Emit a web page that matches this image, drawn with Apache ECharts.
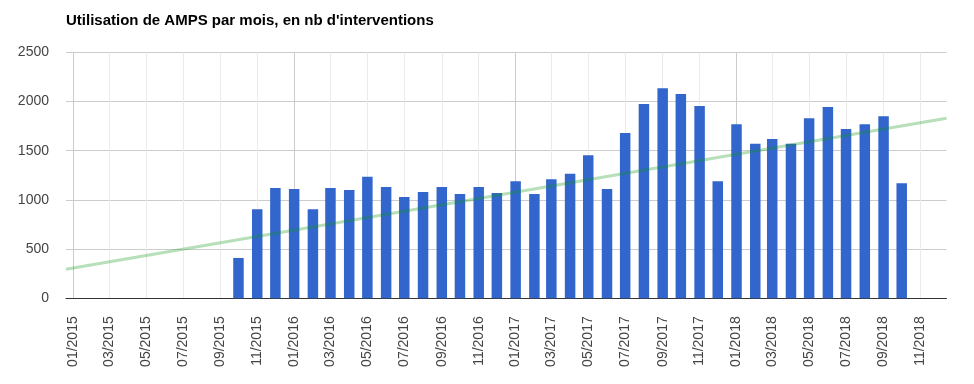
<!DOCTYPE html>
<html>
<head>
<meta charset="utf-8">
<script src="https://cdn.jsdelivr.net/npm/echarts@6/dist/echarts.min.js"></script>
<style>html,body{margin:0;padding:0;background:#fff}#c{width:974px;height:384px}</style>
</head>
<body>
<div id="c"></div>
<script>
const titleText = "Utilisation de AMPS par mois, en nb d'interventions";
const months = ['2015-10-01','2015-11-01','2015-12-01',
  '2016-01-01','2016-02-01','2016-03-01','2016-04-01','2016-05-01','2016-06-01','2016-07-01','2016-08-01','2016-09-01','2016-10-01','2016-11-01','2016-12-01',
  '2017-01-01','2017-02-01','2017-03-01','2017-04-01','2017-05-01','2017-06-01','2017-07-01','2017-08-01','2017-09-01','2017-10-01','2017-11-01','2017-12-01',
  '2018-01-01','2018-02-01','2018-03-01','2018-04-01','2018-05-01','2018-06-01','2018-07-01','2018-08-01','2018-09-01','2018-10-01'];
const interventions = [410,905,1120,
  1110,905,1120,1100,1235,1130,1030,1080,1130,1060,1130,1070,
  1190,1060,1210,1265,1455,1110,1680,1975,2135,2075,1955,1190,
  1770,1570,1620,1570,1830,1945,1720,1770,1850,1170];
const axisStart = '2014-12-20';
const axisEnd = '2018-12-14';
const trendDates = [axisStart, axisEnd];
const trendValues = [295, 1829];
const labelTicks = ['2015-01-01','2015-03-01','2015-05-01','2015-07-01','2015-09-01','2015-11-01',
  '2016-01-01','2016-03-01','2016-05-01','2016-07-01','2016-09-01','2016-11-01',
  '2017-01-01','2017-03-01','2017-05-01','2017-07-01','2017-09-01','2017-11-01',
  '2018-01-01','2018-03-01','2018-05-01','2018-07-01','2018-09-01','2018-11-01'];
const minorTicks = labelTicks.filter(d => d.slice(5,7) !== '01');
const yearTicks = ['2015-01-01','2016-01-01','2017-01-01','2018-01-01'];
const yTicks = [0, 500, 1000, 1500, 2000, 2500];

const FONT = 'Arial, "Liberation Sans", sans-serif';
function ts(s){return Date.parse(s.slice(0,10)+'T00:00:00Z');}
function pad(n){return n<10?'0'+n:''+n;}
const chart = echarts.init(document.getElementById('c'));
chart.setOption({
  animation: false,
  title: {
    text: titleText, left: 61, top: 8,
    textStyle: {fontFamily: FONT, fontSize: 15, fontWeight: 'bold', color: '#000'}
  },
  grid: {left: 66, right: 27.5, top: 52.3, bottom: 85.7, containLabel: false},
  xAxis: [{
    type: 'value', min: ts(axisStart), max: ts(axisEnd),
    axisLine: {show: true, onZero: false, lineStyle: {color: '#333', width: 1}},
    axisTick: {show: false, customValues: minorTicks.map(ts)},
    splitLine: {show: true, lineStyle: {color: '#ebebeb', width: 1}},
    axisLabel: {
      customValues: labelTicks.map(ts), rotate: 90, margin: 18, color: '#444',
      fontFamily: FONT, fontSize: 14, hideOverlap: false,
      showMinLabel: true, showMaxLabel: true,
      formatter: function(v){const d=new Date(v);return pad(d.getUTCMonth()+1)+'/'+d.getUTCFullYear();}
    }
  },{
    type: 'value', min: ts(axisStart), max: ts(axisEnd), position: 'top',
    axisLine: {show: false}, axisLabel: {show: false},
    axisTick: {show: false, customValues: yearTicks.map(ts)},
    splitLine: {show: true, lineStyle: {color: '#cccccc', width: 1}}
  }],
  yAxis: {
    type: 'value', min: yTicks[0], max: yTicks[yTicks.length-1], interval: 500,
    axisLine: {show: false}, axisTick: {show: false},
    splitLine: {lineStyle: {color: '#cccccc', width: 1}},
    axisLabel: {margin: 17, color: '#444', fontFamily: FONT, fontSize: 14,
      formatter: function(v){return String(v);}}
  },
  series: [{
    type: 'bar', name: 'interventions', xAxisIndex: 0,
    data: months.map((m,i)=>[ts(m), interventions[i]]),
    barWidth: 10.5,
    itemStyle: {color: '#3366cc'},
    z: 2
  },{
    type: 'line', name: 'tendance', xAxisIndex: 0,
    data: trendDates.map((d,i)=>[ts(d), trendValues[i]]),
    showSymbol: false, symbol: 'none',
    lineStyle: {color: 'rgb(16,150,24)', opacity: 0.3, width: 3},
    z: 3
  }]
});
</script>
</body>
</html>
